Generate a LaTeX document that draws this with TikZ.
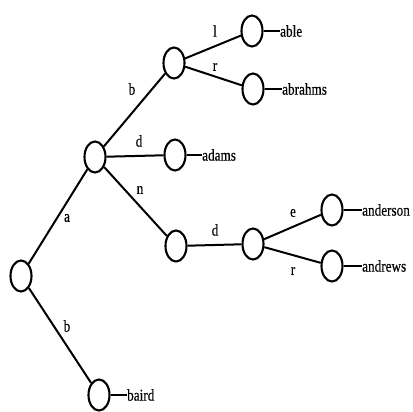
\documentclass[tikz,border=0pt]{standalone}
\usepackage{fontspec}
\setmainfont{Liberation Serif}
\newfontfamily\treefont[FakeStretch=0.8,FakeBold=0.3]{Liberation Serif}
\usetikzlibrary{shapes.geometric}
\begin{document}
\begin{tikzpicture}[x=1pt,y=-1pt,
  vert/.style={draw,ellipse,line width=2.1pt,minimum width=21pt,minimum height=31pt,inner sep=0pt},
  edge/.style={line width=2pt},
  leaf/.style={anchor=west,inner sep=0pt,font=\treefont\fontsize{16.5}{18}\selectfont},
  lbl/.style={inner sep=0pt,font=\treefont\fontsize{16.5}{18}\selectfont}]
\useasboundingbox (0,0) rectangle (413,412);
\node[vert] (root) at (21,276) {};
\node[vert] (na) at (95,157) {};
\node[vert] (nb) at (174,63) {};
\node[vert] (nd) at (175,155) {};
\node[vert] (nn) at (176,246) {};
\node[vert] (nl) at (252,31) {};
\node[vert] (nr) at (253,89) {};
\node[vert] (nd2) at (253,244) {};
\node[vert] (ne) at (332,210) {};
\node[vert] (nr2) at (332,266) {};
\node[vert] (nbb) at (99,395) {};
% leaf texts
\node[leaf] (table) at (280,31) {able};
\node[leaf] (tabr) at (282,89) {abrahms};
\node[leaf] (tadams) at (202,155) {adams};
\node[leaf] (tand) at (362,210) {anderson};
\node[leaf] (tandr) at (362,266) {andrews};
\node[leaf] (tbaird) at (127,395) {baird};
% edges
\draw[edge] (root) -- (na);
\draw[edge] (root) -- (nbb);
\draw[edge] (na) -- (nb);
\draw[edge] (na) -- (nd);
\draw[edge] (na) -- (nn);
\draw[edge] (nb) -- (nl);
\draw[edge] (nb) -- (nr);
\draw[edge] (nn) -- (nd2);
\draw[edge] (nd2) -- (ne);
\draw[edge] (nd2) -- (nr2);
% stubs
\draw[edge] (nl.east) -- (table.west);
\draw[edge] (nr.east) -- (tabr.west);
\draw[edge] (nd.east) -- (tadams.west);
\draw[edge] (ne.east) -- (tand.west);
\draw[edge] (nr2.east) -- (tandr.west);
\draw[edge] (nbb.east) -- (tbaird.west);
% edge labels
\node[lbl] (la) at (67,218) {a};
\node[lbl] (lb1) at (132,89) {b};
\node[lbl] (ld1) at (139,141) {d};
\node[lbl] (ln) at (140,190) {n};
\node[lbl] (lb2) at (67,326) {b};
\node[lbl] (ll) at (215,31) {l};
\node[lbl] (lr1) at (215,67) {r};
\node[lbl] (ld2) at (215,230) {d};
\node[lbl] (le) at (293,213) {e};
\node[lbl] (lr2) at (293,271) {r};
\end{tikzpicture}
\end{document}
